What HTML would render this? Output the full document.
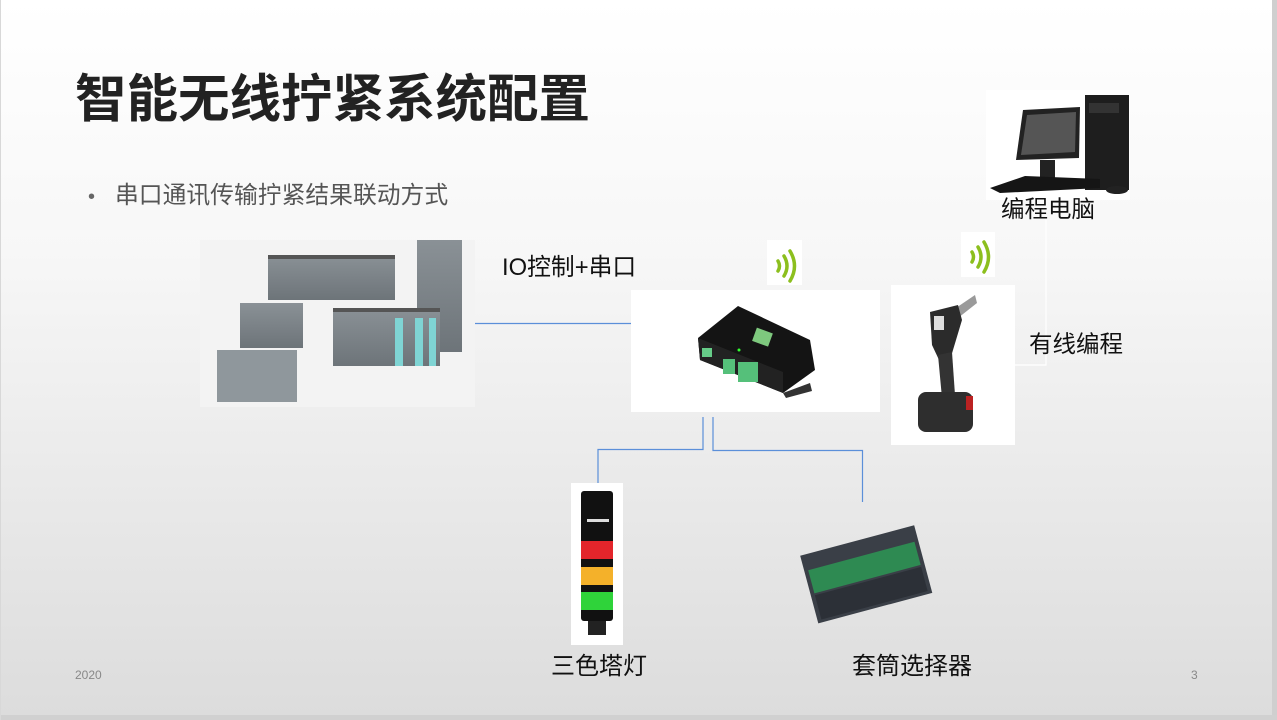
<!DOCTYPE html>
<html><head><meta charset="utf-8"><style>
html,body{margin:0;padding:0;}
body{width:1277px;height:720px;overflow:hidden;font-family:"Liberation Sans","Noto Sans CJK SC",sans-serif;}
</style></head><body>
<svg width="1277" height="720" xmlns="http://www.w3.org/2000/svg" style="display:block;font-family:'Liberation Sans','Noto Sans CJK SC',sans-serif">
<defs>
<linearGradient id="bg" x1="0" y1="0" x2="0" y2="1">
<stop offset="0" stop-color="#ffffff"/><stop offset="0.35" stop-color="#f7f7f7"/><stop offset="1" stop-color="#dcdcdc"/></linearGradient>
<linearGradient id="plc" x1="0" y1="0" x2="0" y2="1"><stop offset="0" stop-color="#8a9196"/><stop offset="1" stop-color="#6d7479"/></linearGradient>
</defs>
<rect width="1277" height="720" fill="url(#bg)"/>
<rect x="1272" y="0" width="5" height="720" fill="#cfcfcf"/>
<rect x="0" y="715" width="1277" height="5" fill="#d0d0d0"/>
<rect x="0" y="0" width="1" height="720" fill="#d8d8d8"/>

<text x="75" y="117" font-size="51.5" font-weight="bold" fill="#222">智能无线拧紧系统配置</text>
<text x="88" y="203" font-size="20" fill="#666">•</text>
<text x="115" y="203" font-size="23.8" fill="#555">串口通讯传输拧紧结果联动方式</text>

<!-- PLC image -->
<rect x="200" y="240" width="275" height="167" fill="#f3f3f3"/>
<rect x="268" y="255" width="127" height="45" fill="url(#plc)"/>
<rect x="417" y="240" width="45" height="112" fill="url(#plc)"/>
<rect x="240" y="303" width="63" height="45" fill="url(#plc)"/>
<rect x="333" y="308" width="107" height="58" fill="url(#plc)"/>
<rect x="217" y="350" width="80" height="52" fill="#8f979c"/>
<rect x="395" y="318" width="8" height="48" fill="#7fd4d4"/>
<rect x="415" y="318" width="8" height="48" fill="#7fd4d4"/>
<rect x="429" y="318" width="7" height="48" fill="#7fd4d4"/>
<rect x="268" y="255" width="127" height="4" fill="#555"/>
<rect x="333" y="308" width="107" height="4" fill="#555"/>

<!-- connectors -->
<line x1="475" y1="323.5" x2="631" y2="323.5" stroke="#5b8fd9" stroke-width="1.2"/>
<polyline points="703,417 703,449.5 598,449.5 598,484" fill="none" stroke="#5b8fd9" stroke-width="1.2"/>
<polyline points="713,417 713,450.5 862.5,450.5 862.5,502" fill="none" stroke="#5b8fd9" stroke-width="1.2"/>
<polyline points="1046,215 1046,365 1015,365" fill="none" stroke="#fff" stroke-width="1.2"/>

<text x="502" y="275" font-size="23.8" fill="#111">IO控制+串口</text>

<!-- wifi icons -->
<rect x="767" y="240" width="35" height="45" fill="#fff"/>
<g fill="none" stroke="#8cbf1e" stroke-width="3.5" stroke-linecap="round">
<path d="M778,261 q3,5 0,10"/><path d="M784,256 q6,10 0,20"/><path d="M790,251 q9,15 0,30"/></g>
<rect x="961" y="232" width="34" height="45" fill="#fff"/>
<g fill="none" stroke="#8cbf1e" stroke-width="3.5" stroke-linecap="round">
<path d="M972,252 q3,5 0,10"/><path d="M978,247 q6,10 0,20"/><path d="M984,242 q9,15 0,30"/></g>

<!-- central device -->
<rect x="631" y="290" width="249" height="122" fill="#fff"/>
<polygon points="698,338 738,306 810,340 815,370 783,393 700,360" fill="#141414"/>
<polygon points="698,338 783,372 783,393 700,360" fill="#222"/>
<rect x="754" y="330" width="17" height="14" fill="#7ec97e" transform="rotate(20 762 337)"/>
<rect x="702" y="348" width="10" height="9" fill="#66cc88"/>
<rect x="723" y="359" width="12" height="15" fill="#55c07a"/>
<rect x="738" y="362" width="20" height="20" fill="#55c07a"/>
<polygon points="783,393 810,383 812,391 786,398" fill="#333"/>
<circle cx="739" cy="350" r="1.5" fill="#3f3"/>

<!-- tool -->
<rect x="891" y="285" width="124" height="160" fill="#fff"/>
<polygon points="975,295 977,303 958,318 950,312" fill="#9a9a9a"/>
<path d="M930,312 L958,305 L962,320 L950,360 L940,362 L932,345 Z" fill="#2b2b2b"/>
<rect x="934" y="316" width="10" height="14" fill="#ddd"/>
<polygon points="938,355 952,352 955,395 942,398" fill="#333"/>
<rect x="918" y="392" width="55" height="40" rx="8" fill="#2e2e2e"/>
<rect x="966" y="396" width="7" height="14" fill="#b22"/>

<!-- PC -->
<rect x="986" y="90" width="144" height="110" fill="#fff"/>
<polygon points="1023,110 1080,107 1079,158 1016,160" fill="#222"/>
<polygon points="1027,115 1076,112 1075,152 1021,155" fill="#555"/>
<rect x="1085" y="95" width="44" height="95" fill="#1e1e1e"/>
<rect x="1089" y="103" width="30" height="10" fill="#333"/>
<rect x="1040" y="160" width="15" height="18" fill="#222"/>
<polygon points="990,188 1025,176 1100,179 1100,188 1000,193" fill="#151515"/>
<ellipse cx="1117" cy="190" rx="11" ry="4" fill="#222"/>
<text x="1001" y="217" font-size="23.5" fill="#111">编程电脑</text>
<text x="1029" y="352" font-size="23.5" fill="#111">有线编程</text>

<!-- tower light -->
<rect x="571" y="483" width="52" height="162" fill="#fff"/>
<rect x="581" y="491" width="32" height="130" rx="3" fill="#111"/>
<rect x="587" y="519" width="22" height="3" fill="#ddd"/>
<rect x="581" y="541" width="32" height="18" fill="#e3252b"/>
<rect x="581" y="567" width="32" height="18" fill="#f4b12a"/>
<rect x="581" y="592" width="32" height="18" fill="#2fd33a"/>
<rect x="588" y="621" width="18" height="14" fill="#222"/>
<text x="551" y="674" font-size="24" fill="#111">三色塔灯</text>

<!-- socket selector -->
<g transform="rotate(-15 863 570)">
<rect x="806" y="540" width="118" height="70" fill="#3a3f47"/>
<rect x="810" y="556" width="110" height="24" fill="#2e8a52"/>
<rect x="810" y="582" width="110" height="25" fill="#2c3037"/>
</g>
<text x="852" y="674" font-size="24" fill="#111">套筒选择器</text>

<text x="75" y="679" font-size="12" fill="#888">2020</text>
<text x="1191" y="679" font-size="12" fill="#888">3</text>
</svg>
</body></html>
